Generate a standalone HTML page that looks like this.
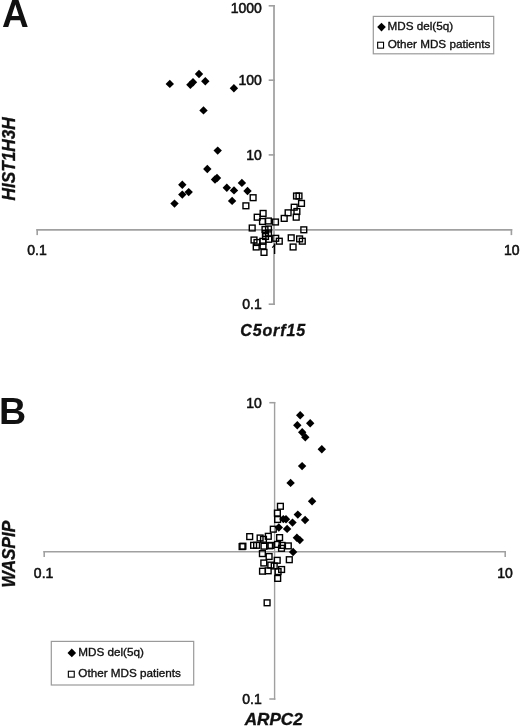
<!DOCTYPE html>
<html><head><meta charset="utf-8"><title>Figure</title>
<style>html,body{margin:0;padding:0;background:#fff;}body{width:520px;height:727px;overflow:hidden;}svg{display:block;filter:blur(0.3px);}.t{font-family:"Liberation Sans",Arial,sans-serif;fill:#111;}</style></head><body>
<svg width="520" height="727" viewBox="0 0 520 727">
<rect width="520" height="727" fill="#fff"/>
<g stroke="#a0a0a0" stroke-width="1.65" fill="none" stroke-linecap="square">
<line x1="37.2" y1="229.8" x2="511.4" y2="229.8"/>
<line x1="37.2" y1="229.8" x2="37.2" y2="234.3"/>
<line x1="511.4" y1="229.8" x2="511.4" y2="234.3"/>
<line x1="274.0" y1="5.8" x2="274.0" y2="304.2" stroke-width="1.75"/>
<line x1="269.5" y1="5.8" x2="274.0" y2="5.8"/>
<line x1="269.5" y1="80.2" x2="274.0" y2="80.2"/>
<line x1="269.5" y1="154.9" x2="274.0" y2="154.9"/>
<line x1="269.5" y1="304.2" x2="274.0" y2="304.2"/>
</g>
<g stroke="#a0a0a0" stroke-width="1.55" fill="none" stroke-linecap="square">
<line x1="44.2" y1="551.8" x2="505.2" y2="551.8"/>
<line x1="44.2" y1="551.8" x2="44.2" y2="556.3"/>
<line x1="505.2" y1="551.8" x2="505.2" y2="556.3"/>
<line x1="274.6" y1="402.7" x2="274.6" y2="699.0" stroke-width="1.4"/>
<line x1="270.1" y1="402.7" x2="274.6" y2="402.7"/>
<line x1="270.1" y1="699.0" x2="274.6" y2="699.0"/>
</g>
<g class="t" font-size="14" text-anchor="end" stroke="#111" stroke-width="0.55">
<text x="261.8" y="12.6">1000</text>
<text x="261.8" y="85.2">100</text>
<text x="261.8" y="159.9">10</text>
<text x="261.8" y="309.2">0.1</text>
<text x="261.8" y="407.7">10</text>
<text x="261.8" y="704.0">0.1</text>
</g>
<g class="t" font-size="14" text-anchor="middle" stroke="#111" stroke-width="0.55">
<text x="37.0" y="255.2">0.1</text>
<text x="511.8" y="255.2">10</text>
<text x="43.6" y="577.6">0.1</text>
<text x="505.0" y="577.6">10</text>
</g>
<g class="t" font-size="37" font-weight="bold" fill="#1a1a1a">
<text transform="translate(2.1,26.6) scale(1,1.03)">A</text>
<text x="-0.9" y="423.8" font-size="37.6">B</text>
</g>
<g class="t" font-size="16" font-weight="bold" font-style="italic" stroke="#111" stroke-width="0.35">
<text x="240.2" y="336" letter-spacing="0.9">C5orf15</text>
<text transform="translate(244.7,724.6) scale(1.07,1)">ARPC2</text>
</g>
<g class="t" font-size="17.2" font-weight="bold" font-style="italic" stroke="#111" stroke-width="0.3">
<text transform="translate(14.6,200.4) rotate(-90) scale(1,1.06)">HIST1H3H</text>
<text transform="translate(15.0,587.6) rotate(-90) scale(1,1.06)">WASPIP</text>
</g>
<rect x="373.3" y="16.4" width="120.4" height="37.4" fill="#fff" stroke="#9a9a9a" stroke-width="1.2"/>
<rect x="51.3" y="641.4" width="142.4" height="43.6" fill="#fff" stroke="#9a9a9a" stroke-width="1.2"/>
<g fill="#000">
<polygon points="381.50,22.80 385.80,27.10 381.50,31.40 377.20,27.10"/>
<polygon points="71.80,648.60 76.10,652.90 71.80,657.20 67.50,652.90"/>
</g>
<g fill="none" stroke="#000" stroke-width="1.4">
<rect x="377.65" y="42.25" width="5.9" height="5.9" stroke-width="1.1"/>
<rect x="68.35" y="671.25" width="5.9" height="5.9" stroke-width="1.1"/>
</g>
<g class="t" font-size="11.7" stroke="#111" stroke-width="0.35">
<text x="387.5" y="29.6">MDS del(5q)</text>
<text x="387.7" y="48.3">Other MDS patients</text>
<text x="78.3" y="655.5">MDS del(5q)</text>
<text x="78.3" y="676.8">Other MDS patients</text>
</g>
<g fill="none" stroke="#000" stroke-width="1.4">
<rect x="250.20" y="194.80" width="5.8" height="5.8"/>
<rect x="243.00" y="202.90" width="5.8" height="5.8"/>
<rect x="260.20" y="210.50" width="5.8" height="5.8"/>
<rect x="254.30" y="214.30" width="5.8" height="5.8"/>
<rect x="265.50" y="218.10" width="5.8" height="5.8"/>
<rect x="272.60" y="219.10" width="5.8" height="5.8"/>
<rect x="259.60" y="218.60" width="5.8" height="5.8"/>
<rect x="249.30" y="225.10" width="5.8" height="5.8"/>
<rect x="262.10" y="226.60" width="5.8" height="5.8"/>
<rect x="265.60" y="226.10" width="5.8" height="5.8"/>
<rect x="262.60" y="230.60" width="5.8" height="5.8"/>
<rect x="265.60" y="230.10" width="5.8" height="5.8"/>
<rect x="262.60" y="233.60" width="5.8" height="5.8"/>
<rect x="251.10" y="237.10" width="5.8" height="5.8"/>
<rect x="254.10" y="239.60" width="5.8" height="5.8"/>
<rect x="259.90" y="238.40" width="5.8" height="5.8"/>
<rect x="260.10" y="243.10" width="5.8" height="5.8"/>
<rect x="253.30" y="244.10" width="5.8" height="5.8"/>
<rect x="261.10" y="249.50" width="5.8" height="5.8"/>
<rect x="265.90" y="236.40" width="5.8" height="5.8"/>
<rect x="272.80" y="235.40" width="5.8" height="5.8"/>
<rect x="276.40" y="238.30" width="5.8" height="5.8"/>
<rect x="293.60" y="193.10" width="5.8" height="5.8"/>
<rect x="296.10" y="193.10" width="5.8" height="5.8"/>
<rect x="298.60" y="200.50" width="5.8" height="5.8"/>
<rect x="291.30" y="204.30" width="5.8" height="5.8"/>
<rect x="294.00" y="208.60" width="5.8" height="5.8"/>
<rect x="285.20" y="209.90" width="5.8" height="5.8"/>
<rect x="293.30" y="214.30" width="5.8" height="5.8"/>
<rect x="281.30" y="215.50" width="5.8" height="5.8"/>
<rect x="300.90" y="226.90" width="5.8" height="5.8"/>
<rect x="288.30" y="234.90" width="5.8" height="5.8"/>
<rect x="296.70" y="236.00" width="5.8" height="5.8"/>
<rect x="299.40" y="238.30" width="5.8" height="5.8"/>
<rect x="290.20" y="244.10" width="5.8" height="5.8"/>
<rect x="277.50" y="503.40" width="5.8" height="5.8"/>
<rect x="274.50" y="510.20" width="5.8" height="5.8"/>
<rect x="274.70" y="516.60" width="5.8" height="5.8"/>
<rect x="270.40" y="526.30" width="5.8" height="5.8"/>
<rect x="246.80" y="533.70" width="5.8" height="5.8"/>
<rect x="257.20" y="535.10" width="5.8" height="5.8"/>
<rect x="265.40" y="533.40" width="5.8" height="5.8"/>
<rect x="260.60" y="536.40" width="5.8" height="5.8"/>
<rect x="276.70" y="534.70" width="5.8" height="5.8"/>
<rect x="239.20" y="543.70" width="5.8" height="5.8"/>
<rect x="240.00" y="543.30" width="5.8" height="5.8"/>
<rect x="250.70" y="542.40" width="5.8" height="5.8"/>
<rect x="253.70" y="542.40" width="5.8" height="5.8"/>
<rect x="261.10" y="543.30" width="5.8" height="5.8"/>
<rect x="266.70" y="542.90" width="5.8" height="5.8"/>
<rect x="274.60" y="541.50" width="5.8" height="5.8"/>
<rect x="279.10" y="542.50" width="5.8" height="5.8"/>
<rect x="285.40" y="543.00" width="5.8" height="5.8"/>
<rect x="278.60" y="545.40" width="5.8" height="5.8"/>
<rect x="268.10" y="542.50" width="5.8" height="5.8"/>
<rect x="259.50" y="550.70" width="5.8" height="5.8"/>
<rect x="266.20" y="553.60" width="5.8" height="5.8"/>
<rect x="286.40" y="556.80" width="5.8" height="5.8"/>
<rect x="274.30" y="557.40" width="5.8" height="5.8"/>
<rect x="260.90" y="560.10" width="5.8" height="5.8"/>
<rect x="267.90" y="562.20" width="5.8" height="5.8"/>
<rect x="271.30" y="563.10" width="5.8" height="5.8"/>
<rect x="278.70" y="566.60" width="5.8" height="5.8"/>
<rect x="275.20" y="568.70" width="5.8" height="5.8"/>
<rect x="259.60" y="568.30" width="5.8" height="5.8"/>
<rect x="265.30" y="567.90" width="5.8" height="5.8"/>
<rect x="274.80" y="575.50" width="5.8" height="5.8"/>
<rect x="264.20" y="599.90" width="5.8" height="5.8"/>
</g>
<g fill="#000">
<polygon points="169.80,79.70 174.00,83.90 169.80,88.10 165.60,83.90"/>
<polygon points="190.40,80.50 194.60,84.70 190.40,88.90 186.20,84.70"/>
<polygon points="193.00,78.00 197.20,82.20 193.00,86.40 188.80,82.20"/>
<polygon points="199.00,69.80 203.20,74.00 199.00,78.20 194.80,74.00"/>
<polygon points="205.30,77.00 209.50,81.20 205.30,85.40 201.10,81.20"/>
<polygon points="203.50,106.20 207.70,110.40 203.50,114.60 199.30,110.40"/>
<polygon points="233.90,84.10 238.10,88.30 233.90,92.50 229.70,88.30"/>
<polygon points="217.70,146.40 221.90,150.60 217.70,154.80 213.50,150.60"/>
<polygon points="207.30,164.80 211.50,169.00 207.30,173.20 203.10,169.00"/>
<polygon points="215.00,175.30 219.20,179.50 215.00,183.70 210.80,179.50"/>
<polygon points="217.00,173.80 221.20,178.00 217.00,182.20 212.80,178.00"/>
<polygon points="182.30,180.60 186.50,184.80 182.30,189.00 178.10,184.80"/>
<polygon points="182.30,190.40 186.50,194.60 182.30,198.80 178.10,194.60"/>
<polygon points="188.70,187.90 192.90,192.10 188.70,196.30 184.50,192.10"/>
<polygon points="174.50,199.40 178.70,203.60 174.50,207.80 170.30,203.60"/>
<polygon points="226.80,183.50 231.00,187.70 226.80,191.90 222.60,187.70"/>
<polygon points="234.00,186.20 238.20,190.40 234.00,194.60 229.80,190.40"/>
<polygon points="232.10,196.70 236.30,200.90 232.10,205.10 227.90,200.90"/>
<polygon points="241.90,178.70 246.10,182.90 241.90,187.10 237.70,182.90"/>
<polygon points="247.50,186.80 251.70,191.00 247.50,195.20 243.30,191.00"/>
<polygon points="300.20,411.10 304.40,415.30 300.20,419.50 296.00,415.30"/>
<polygon points="297.30,421.00 301.50,425.20 297.30,429.40 293.10,425.20"/>
<polygon points="310.20,419.10 314.40,423.30 310.20,427.50 306.00,423.30"/>
<polygon points="302.20,428.00 306.40,432.20 302.20,436.40 298.00,432.20"/>
<polygon points="305.30,433.00 309.50,437.20 305.30,441.40 301.10,437.20"/>
<polygon points="321.80,445.00 326.00,449.20 321.80,453.40 317.60,449.20"/>
<polygon points="302.10,461.90 306.30,466.10 302.10,470.30 297.90,466.10"/>
<polygon points="290.60,478.70 294.80,482.90 290.60,487.10 286.40,482.90"/>
<polygon points="312.10,497.10 316.30,501.30 312.10,505.50 307.90,501.30"/>
<polygon points="297.80,510.40 302.00,514.60 297.80,518.80 293.60,514.60"/>
<polygon points="305.10,515.80 309.30,520.00 305.10,524.20 300.90,520.00"/>
<polygon points="292.50,518.40 296.70,522.60 292.50,526.80 288.30,522.60"/>
<polygon points="283.30,514.90 287.50,519.10 283.30,523.30 279.10,519.10"/>
<polygon points="286.00,515.10 290.20,519.30 286.00,523.50 281.80,519.30"/>
<polygon points="287.10,524.70 291.30,528.90 287.10,533.10 282.90,528.90"/>
<polygon points="278.80,523.30 283.00,527.50 278.80,531.70 274.60,527.50"/>
<polygon points="296.90,533.50 301.10,537.70 296.90,541.90 292.70,537.70"/>
<polygon points="299.80,535.90 304.00,540.10 299.80,544.30 295.60,540.10"/>
<polygon points="293.10,547.80 297.30,552.00 293.10,556.20 288.90,552.00"/>
</g>
<g stroke="#000" stroke-width="1.4">
<line x1="274.6" y1="243.5" x2="274.6" y2="254"/>
<line x1="272.2" y1="247.6" x2="275.2" y2="244.5" stroke-width="1.1"/>
</g>
</svg></body></html>
